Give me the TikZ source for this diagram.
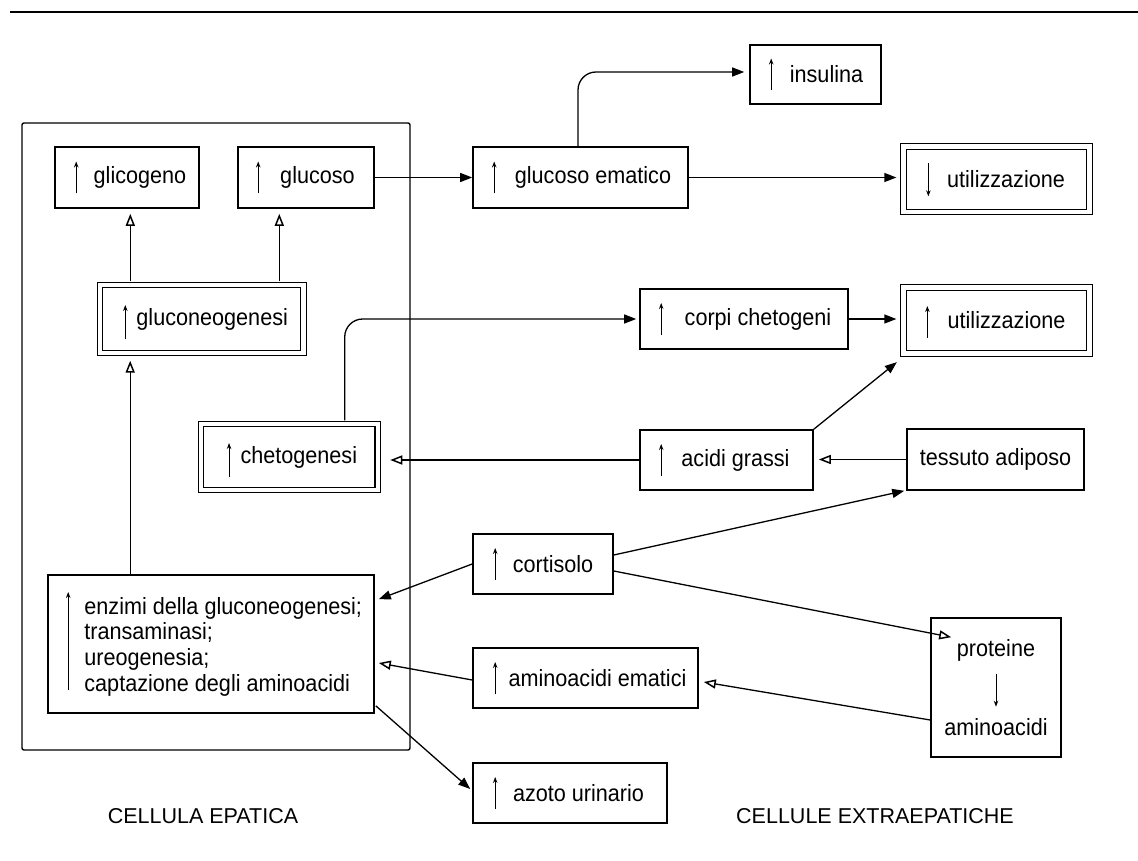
\documentclass[tikz,border=0pt]{standalone}
\usepackage{fontspec}
\setmainfont{Liberation Sans}
\newfontfamily\boxfont{Liberation Sans}[FakeStretch=0.92]
\usetikzlibrary{arrows.meta,calc}
\newcommand\innerarrow[4]{\draw[inarr] ($(#1.west)+(#2,#3+#4)$) -- ($(#1.west)+(#2,#3-#4)$);}
\begin{document}
\begin{tikzpicture}[x=1pt,y=-1pt,
  every node/.style={font=\boxfont\fontsize{23.5}{25.7}\selectfont},
  box/.style={draw,line width=1.6pt,inner sep=0pt},
  dbox/.style={draw,double,line width=1.3pt,double distance=4.2pt,inner sep=0pt},
  conn/.style={line width=1.3pt},
  fa/.style={conn,-{Triangle[length=12pt,width=9pt]}},
  oa/.style={conn,-{Triangle[open,length=12pt,width=9pt,line width=1.5pt]}},
  inarr/.style={line width=1.1pt,-{Stealth[length=6pt,width=4.5pt]}},
  lab/.style={font=\fontsize{21.5}{24}\selectfont}]
\fill[white] (0,0) rectangle (1138,861);
\useasboundingbox (0,0) rectangle (1138,861);
\draw[line width=2pt] (10,12) -- (1138,12);
% container
\node[draw,line width=1.4pt,rounded corners=2pt,minimum width=388pt,minimum height=627pt,inner sep=0pt] (liver) at (216,436.5) {};
% boxes
\node[box,minimum width=144pt,minimum height=61pt] (glic) at (127,177.5) {\hspace*{26pt}glicogeno};
\node[box,minimum width=136pt,minimum height=61pt] (gluc) at (306,177.5) {\hspace*{23pt}glucoso};
\node[dbox,minimum width=203.5pt,minimum height=68pt] (gng) at (201.7,319) {\hspace*{21pt}gluconeogenesi};
\node[dbox,minimum width=176.6pt,minimum height=66pt] (cheto) at (289.3,457) {\hspace*{19pt}chetogenesi};
\node[box,minimum width=326pt,minimum height=138pt] (enz) at (211,644) {};
\node[anchor=west,align=left,inner sep=0pt] (enzt) at ($(enz.west)+(37,2.5)$) {enzimi della gluconeogenesi;\\transaminasi;\\ureogenesia;\\captazione degli aminoacidi};
\node[box,minimum width=215pt,minimum height=61pt] (gem) at (580.5,177.5) {\hspace*{25pt}glucoso ematico};
\node[box,minimum width=131pt,minimum height=59pt] (ins) at (815.5,74.5) {\hspace*{22pt}insulina};
\node[dbox,minimum width=186pt,minimum height=65.5pt] (util1) at (996.5,179.3) {\hspace*{19pt}utilizzazione};
\node[dbox,minimum width=186pt,minimum height=66pt] (util2) at (996.5,320.5) {\hspace*{20pt}utilizzazione};
\node[box,minimum width=208pt,minimum height=60pt] (corpi) at (744,319) {\hspace*{28pt}corpi chetogeni};
\node[box,minimum width=173pt,minimum height=60pt] (acidi) at (726.5,460) {\hspace*{18pt}acidi grassi};
\node[box,minimum width=177pt,minimum height=61pt] (tess) at (995.5,459.5) {tessuto adiposo};
\node[box,minimum width=140pt,minimum height=60pt] (cort) at (543,564) {\hspace*{20pt}cortisolo};
\node[box,minimum width=225pt,minimum height=60pt] (amem) at (585.5,678) {\hspace*{24pt}aminoacidi ematici};
\node[box,minimum width=194pt,minimum height=60pt] (azoto) at (570,793) {\hspace*{17pt}azoto urinario};
\node[box,minimum width=130pt,minimum height=139pt] (prot) at (996,687.5) {};
\node[inner sep=0pt] (pt) at ($(prot.center)+(0,-37)$) {proteine};
\node[inner sep=0pt] (am) at ($(prot.center)+(0,40)$) {aminoacidi};
% labels
\node[lab] (lep) at (203,816) {CELLULA EPATICA};
\node[lab] (lex) at (875,816) {CELLULE EXTRAEPATICHE};
% inner arrows
\innerarrow{glic}{22}{0}{16}
\innerarrow{gluc}{21}{0}{16}
\innerarrow{gng}{26}{3}{17}
\innerarrow{cheto}{28.7}{3}{17}
\innerarrow{enz}{21}{-3}{49}
\innerarrow{gem}{22}{0}{16}
\innerarrow{ins}{22}{0}{16}
\draw[inarr] ($(util1.west)+(25.5,-16)$) -- ($(util1.west)+(25.5,17)$);
\innerarrow{util2}{24.5}{1.5}{16}
\innerarrow{corpi}{22}{0}{16}
\innerarrow{acidi}{22}{0}{16}
\innerarrow{cort}{23}{0}{16}
\innerarrow{amem}{23}{0}{16}
\innerarrow{azoto}{23}{0}{16}
\draw[line width=0.9pt,-{Stealth[length=6pt,width=4.5pt]},shorten <=12pt,shorten >=12pt] (pt.south) -- (am.north);
% connectors
\coordinate (a1) at ($(gng.north west)+(31,0)$);
\coordinate (a2) at ($(gng.north west)+(180,0)$);
\coordinate (a3) at ($(enz.north west)+(83,0)$);
\draw[oa,shorten <=3pt,shorten >=5pt] (a1) -- (a1 |- glic.south);
\draw[oa,shorten <=3pt,shorten >=5pt] (a2) -- (a2 |- gluc.south);
\draw[oa,shorten >=7pt] (a3) -- (a3 |- gng.south);
\draw[fa] (gluc.east) -- (gem.west);
\draw[fa,shorten >=6.5pt] (gem.east) -- (gem.east -| util1.west);
\draw[fa,rounded corners=18pt] ($(gem.north)+(-2.5,0)$) |- ($(ins.west)+(-5,-2.5)$);
\draw[fa,rounded corners=18pt,shorten <=3pt] ($(cheto.north)+(55.4,0)$) |- ($(corpi.west)+(-3,0)$);
\draw[fa,shorten >=6.5pt] (corpi.east) -- (corpi.east -| util2.west);
\draw[fa] (acidi.north east) -- ($(util2.south west)+(-6,8)$);
\draw[oa,shorten >=5pt] (tess.west) -- (tess.west -| acidi.east);
\draw[oa,shorten >=12pt] (acidi.west) -- (acidi.west -| cheto.east);
\draw[fa] ($(cort.east)+(0,-9)$) -- ($(tess.south west)+(-2,0)$);
\draw[fa] (cort.west) -- ($(enz.north east)+(4,25)$);
\draw[oa] ($(cort.east)+(0,7)$) -- ($(prot.north west)+(21,20)$);
\draw[oa] ($(prot.west)+(0,32.5)$) -- ($(amem.east)+(5,4)$);
\draw[oa] ($(amem.west)+(0,2)$) -- ($(enz.east)+(4,19)$);
\draw[fa] ($(enz.south east)+(1,-8)$) -- ($(azoto.west)+(-2,-4)$);
\end{tikzpicture}
\end{document}
